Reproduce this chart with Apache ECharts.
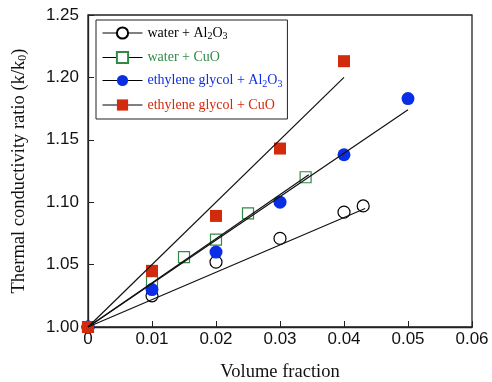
<!DOCTYPE html>
<html>
<head>
<meta charset="utf-8">
<script src="https://cdn.jsdelivr.net/npm/echarts@6/dist/echarts.min.js"></script>
<style>
  html, body { margin: 0; padding: 0; background: #fff; }
  #chart { width: 492px; height: 382px; }
</style>
</head>
<body>
<div id="chart"></div>
<script>
const waterAl2O3 = [[0, 1.0], [0.01, 1.025], [0.02, 1.052], [0.03, 1.071], [0.04, 1.092], [0.043, 1.097]];
const waterCuO = [[0, 1.0], [0.01, 1.036], [0.015, 1.056], [0.02, 1.07], [0.025, 1.091], [0.034, 1.12]];
const egAl2O3 = [[0, 1.0], [0.01, 1.03], [0.02, 1.06], [0.03, 1.1], [0.04, 1.138], [0.05, 1.183]];
const egCuO = [[0, 1.0], [0.01, 1.045], [0.02, 1.089], [0.03, 1.143], [0.04, 1.213]];

// fitted lines (start, end)
const fitWaterAl2O3 = [[0, 1.0], [0.0433, 1.095]];
const fitWaterCuO = [[0, 1.0], [0.0345, 1.122]];
const fitEgAl2O3 = [[0, 1.0], [0.05, 1.174]];
const fitEgCuO = [[0, 1.0], [0.04, 1.2]];

const names = ["water + Al2O3", "water + CuO", "ethylene glycol + Al2O3", "ethylene glycol + CuO"];
const colors = ["#000000", "#2f8a46", "#0a2ee6", "#d22a0c"];

const serif = "Liberation Serif";
const sans = "Liberation Sans";

const chart = echarts.init(document.getElementById("chart"));

const subRich = (c, size, pad) => ({
  s: { fontSize: size, color: c, fontFamily: serif, padding: [pad, 0, 0, 0] },
});

const markerSeries = (name, data, symbol, size, color, filled) => ({
  name,
  type: "line",
  data,
  symbol,
  symbolSize: size,
  showSymbol: true,
  lineStyle: { width: 0, opacity: 0 },
  itemStyle: {
    color: filled ? color : "#ffffff",
    borderColor: color,
    borderWidth: filled ? 0 : 1.2,
    opacity: 1,
  },
  z: 3,
  animation: false,
});

const fitSeries = (data) => ({
  type: "line",
  data,
  symbol: "none",
  silent: true,
  lineStyle: { color: "#111", width: 1.2 },
  z: 4,
  animation: false,
});

chart.setOption({
  animation: false,
  grid: {
    left: 88, right: 20, top: 15, bottom: 55,
    outerBoundsMode: "none",
    show: true, borderColor: "#222", borderWidth: 1.3,
  },
  xAxis: {
    type: "value",
    min: 0,
    max: 0.06,
    interval: 0.01,
    name: "Volume fraction",
    nameLocation: "middle",
    nameGap: 36,
    nameTextStyle: { fontFamily: serif, fontSize: 18.5, color: "#111" },
    axisLine: { lineStyle: { color: "#222", width: 1.3 } },
    axisTick: { inside: true, length: 6, lineStyle: { color: "#222" } },
    splitLine: { show: false },
    axisLabel: {
      fontFamily: sans,
      fontSize: 17,
      color: "#111",
      margin: 4,
      formatter: (v) => (v === 0 ? "0" : v.toFixed(2)),
    },
  },
  yAxis: {
    type: "value",
    min: 1.0,
    max: 1.25,
    interval: 0.05,
    name: "Thermal conductivity ratio (k/k{s|0})",
    nameLocation: "middle",
    nameGap: 59,
    nameTextStyle: { fontFamily: serif, fontSize: 18.5, color: "#111", rich: subRich("#111", 12, 8) },
    axisLine: { lineStyle: { color: "#222", width: 1.3 } },
    axisTick: { inside: true, length: 6, lineStyle: { color: "#222" } },
    splitLine: { show: false },
    axisLabel: {
      fontFamily: sans,
      fontSize: 17,
      color: "#111",
      margin: 9,
      formatter: (v) => v.toFixed(2),
    },
  },
  legend: {
    orient: "vertical",
    left: 96,
    top: 20,
    itemWidth: 40,
    itemHeight: 14,
    itemGap: 9,
    padding: [6, 5, 7, 6],
    borderColor: "#222",
    borderWidth: 1,
    selectedMode: false,
    lineStyle: { color: "#000", width: 1, opacity: 1 },
    data: names.map((n, i) => ({
      name: n,
      textStyle: { color: colors[i], fontFamily: serif, fontSize: 14, rich: subRich(colors[i], 10, 7) },
    })),
    formatter: (n) => n.replace("Al2O3", "Al{s|2}O{s|3}"),
  },
  series: [
    markerSeries(names[0], waterAl2O3, "circle", 12, colors[0], false),
    markerSeries(names[1], waterCuO, "rect", 11, colors[1], false),
    markerSeries(names[2], egAl2O3, "circle", 13, colors[2], true),
    markerSeries(names[3], egCuO, "rect", 12, colors[3], true),
    fitSeries(fitWaterAl2O3),
    fitSeries(fitWaterCuO),
    fitSeries(fitEgAl2O3),
    fitSeries(fitEgCuO),
  ],
});
</script>
</body>
</html>
